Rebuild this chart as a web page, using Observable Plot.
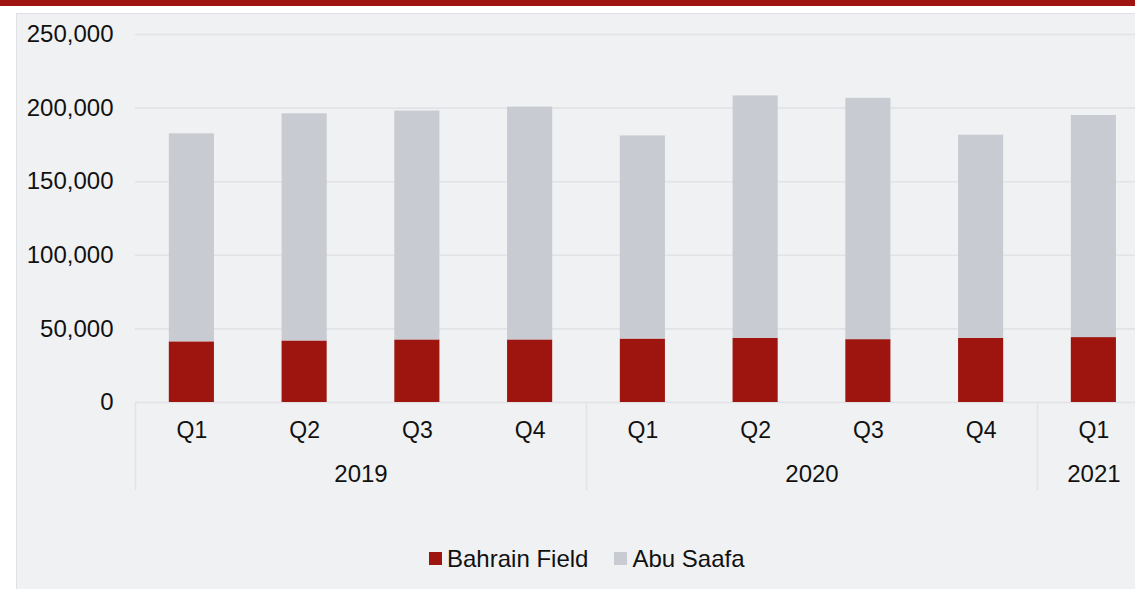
<!DOCTYPE html>
<html>
<head>
<meta charset="utf-8">
<script src="https://cdn.jsdelivr.net/npm/d3@7"></script>
<script src="https://cdn.jsdelivr.net/npm/@observablehq/plot@0.6"></script>
<style>
  html, body { margin: 0; padding: 0; width: 1135px; height: 589px; overflow: hidden; background: #ffffff; }
  #topbar { position: absolute; left: 0; top: 0; width: 1135px; height: 6px; background: #9e1410; }
  #panel { position: absolute; left: 16px; top: 13px; width: 1140px; height: 600px; background: #f0f1f3; border-left: 1.5px solid #dfe1e4; border-top: 1.5px solid #dfe1e4; }
  #chart { position: absolute; left: 0; top: 0; }
  #legend { position: absolute; left: 429px; top: 542px; }
  .leg-swatches { margin: 0 !important; font-family: "Liberation Sans", Arial, sans-serif; font-size: 24px; color: #111; }
  .leg-swatches-wrap { min-height: 33px; }
  .leg-swatch { margin-right: 26px !important; }
  .leg-swatch > svg { margin-right: 5px !important; }
</style>
</head>
<body>
<div id="topbar"></div>
<div id="panel"></div>
<div id="chart"></div>
<div id="legend"></div>
<script>
// ---- data ----
const years = ["2019", "2019", "2019", "2019", "2020", "2020", "2020", "2020", "2021"];
const quarters = ["Q1", "Q2", "Q3", "Q4", "Q1", "Q2", "Q3", "Q4", "Q1"];
const bahrainField = [41200, 41800, 42500, 42500, 43100, 43600, 42700, 43600, 44100];
const abuSaafa = [141300, 154300, 155500, 158200, 138000, 164700, 163900, 138000, 150900];
const seriesNames = ["Bahrain Field", "Abu Saafa"];
const seriesColors = ["#9e1510", "#c8cbd2"];
const yTicks = [0, 50000, 100000, 150000, 200000, 250000];

// ---- derived tables ----
const keys = years.map((y, i) => `${y} ${quarters[i]}`);
const rows = [];
keys.forEach((k, i) => {
  rows.push({key: k, series: seriesNames[0], value: bahrainField[i]});
  rows.push({key: k, series: seriesNames[1], value: abuSaafa[i]});
});
const labels = keys.map((k, i) => ({key: k, quarter: quarters[i], year: years[i]}));

// year groups: label centred over the group's quarters, separator at group start
const groups = d3.groups(labels, d => d.year).map(([year, items]) => ({
  year, first: items[0].key, mid: items[Math.floor((items.length - 1) / 2)].key, even: items.length % 2 === 0
}));

const W = 1135, H = 520, mL = 135, mT = 34, mB = H - 402;
const xRange = [mL, mL + 9 * 112.75];
const step = (xRange[1] - xRange[0]) / keys.length;
const yMax = 250000;
const sepBottom = -88 * yMax / (H - mB - mT);

const font = '"Liberation Sans", Arial, sans-serif';

const chart = Plot.plot({
  width: W,
  height: H,
  marginLeft: mL,
  marginRight: 0,
  marginTop: mT,
  marginBottom: mB,
  style: {background: "transparent", fontFamily: font, fontSize: "24px", color: "#111"},
  x: {domain: keys, range: xRange, paddingInner: 0.6, paddingOuter: 0.3, round: false, axis: null},
  y: {domain: [0, yMax], ticks: yTicks, tickFormat: d3.format(","), tickSize: 0, tickPadding: 22, label: null},
  color: {domain: seriesNames, range: seriesColors},
  marks: [
    Plot.ruleY(yTicks, {stroke: "#e1e3e6", strokeWidth: 1.6}),
    Plot.barY(rows, {x: "key", y: "value", fill: "series"}),
    Plot.ruleX(groups, {x: "first", dx: -step / 2, y1: 0, y2: sepBottom, stroke: "#e1e3e6", strokeWidth: 1.6}),
    Plot.text(labels, {x: "key", text: "quarter", frameAnchor: "bottom", dy: 35, fontSize: 23, fill: "#111", fontFamily: font}),
    Plot.text(groups.filter(g => g.even), {x: "mid", text: "year", frameAnchor: "bottom", dy: 79, dx: step / 2, fontSize: 24, fill: "#111", fontFamily: font}),
    Plot.text(groups.filter(g => !g.even), {x: "mid", text: "year", frameAnchor: "bottom", dy: 79, fontSize: 24, fill: "#111", fontFamily: font})
  ]
});
document.getElementById("chart").appendChild(chart);

const legend = Plot.legend({
  color: {domain: seriesNames, range: seriesColors},
  legend: "swatches",
  swatchSize: 13,
  className: "leg"
});
document.getElementById("legend").appendChild(legend);
</script>
</body>
</html>
